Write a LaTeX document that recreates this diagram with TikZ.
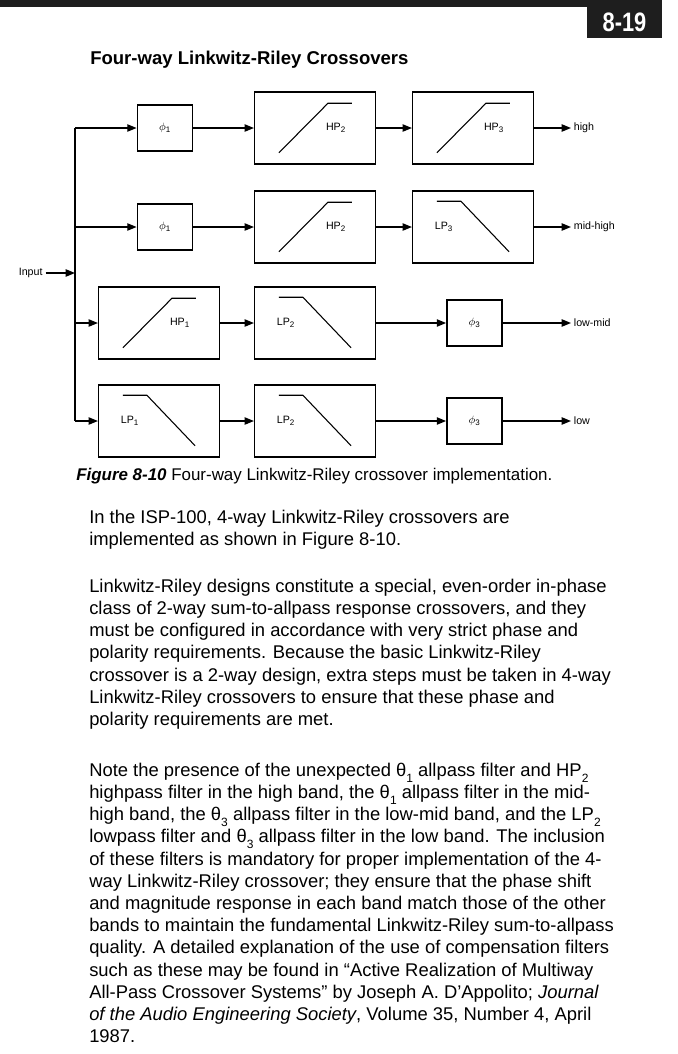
\documentclass[tikz,border=0pt]{standalone}
\usepackage{fontspec}
\setmainfont{Liberation Sans}
\usepackage{graphicx}
\usepackage{tikz}
\usetikzlibrary{positioning,arrows.meta,calc}

\definecolor{pagebar}{RGB}{30,30,30}
\newcommand{\lowidx}[1]{\raisebox{-0.6ex}{\fontsize{9}{9}\selectfont #1}}

\begin{document}
\begin{tikzpicture}[
  x=0.75pt, y=-0.75pt,
  font=\fontsize{8}{9.5}\selectfont,
  filt/.style={draw, line width=1.1pt, minimum width=90.5pt, minimum height=54pt, inner sep=0pt},
  apass/.style={draw, line width=1.1pt, minimum width=41.5pt, minimum height=34.5pt, inner sep=0pt},
  lbl/.style={inner sep=2pt},
  arr/.style={-{Triangle[length=7pt,width=5.5pt]}, line width=1pt},
  resp/.style={line width=0.8pt},
  para/.style={anchor=north west, inner sep=0pt, align=left, font=\fontsize{13.8}{16.65}\selectfont}]
\useasboundingbox (0,0) rectangle (678,1054);

% page header
\fill[pagebar] (0,0) rectangle (662,7);
\node[fill=pagebar, text=white, minimum width=56.25pt, minimum height=23.25pt, inner sep=0pt,
  font=\bfseries\fontsize{20}{20}\selectfont] (pgno) at (624.5,22.5) {\scalebox{0.82}[1]{8-19}};
\node[anchor=base west, inner sep=0pt, font=\bfseries\fontsize{13.9}{16}\selectfont] (title) at (90,64.5)
  {Four-way Linkwitz-Riley Crossovers};

% input and bus
\node[lbl, anchor=east] (in) at (45.5,273) {Input};
\coordinate (bt) at (75,128);
\coordinate (bb) at (75,421);
\draw[line width=1.6pt] (bt) -- (bb);
\draw[arr] (in) -- (bt |- in);

% high
\node[apass] (ap1a) at (165,128) {$\phi$\textsubscript{1}};
\node[filt] (hp2a) at (315,128) {};
\node[filt] (hp3a) at (473,128) {};
\node[lbl, anchor=west] (high) at (571,128) {high};
% mid-high
\node[apass] (ap1b) at (165,227) {$\phi$\textsubscript{1}};
\node[filt] (hp2b) at (315,227) {};
\node[filt] (lp3) at (473,227) {};
\node[lbl, anchor=west] (midhigh) at (571,227) {mid-high};
% low-mid
\node[filt] (hp1) at (159,323) {};
\node[filt] (lp2a) at (315,323) {};
\node[apass] (ap3a) at (474.5,323) {$\phi$\textsubscript{3}};
\node[lbl, anchor=west] (lowmid) at (571,323) {low-mid};
% low
\node[filt] (lp1) at (159,421) {};
\node[filt] (lp2b) at (315,421) {};
\node[apass] (ap3b) at (474.5,421) {$\phi$\textsubscript{3}};
\node[lbl, anchor=west] (low) at (571,421) {low};

% filter responses
\foreach \f/\t in {hp2a/2, hp3a/3, hp2b/2, hp1/1} {
  \draw[resp] ($(\f.south west)+(25,-12)$) -- ($(\f.north west)+(74,12)$) -- ++(24,0);
  \node[lbl] (\f-l) at ($(\f)+(21,0)$) {HP\textsubscript{\t}};
}
\foreach \f/\t in {lp3/3, lp2a/2, lp1/1, lp2b/2} {
  \draw[resp] ($(\f.north west)+(25,11)$) -- ++(24,0) -- ($(\f.south east)+(-25,-12)$);
  \node[lbl] (\f-l) at ($(\f)+(-29,0)$) {LP\textsubscript{\t}};
}

% connections
\foreach \n in {ap1a, ap1b, hp1, lp1}
  \draw[arr] (bt |- \n) -- (\n);
\draw[arr] (ap1a) -- (hp2a);
\draw[arr] (hp2a) -- (hp3a);
\draw[arr] (hp3a) -- (high);
\draw[arr] (ap1b) -- (hp2b);
\draw[arr] (hp2b) -- (lp3);
\draw[arr] (lp3) -- (midhigh);
\draw[arr] (hp1) -- (lp2a);
\draw[arr] (lp2a) -- (ap3a);
\draw[arr] (ap3a) -- (lowmid);
\draw[arr] (lp1) -- (lp2b);
\draw[arr] (lp2b) -- (ap3b);
\draw[arr] (ap3b) -- (low);

% caption and text
\node[anchor=base west, inner sep=0pt, font=\fontsize{12.7}{15}\selectfont] (cap) at (76,480)
  {\textbf{\textit{Figure 8-10}} Four-way Linkwitz-Riley crossover implementation.};
\node[para] (para1) at (89,507.5) {\strut In the ISP-100, 4-way Linkwitz-Riley crossovers are\\
  implemented as shown in Figure 8-10.};
\node[para] (para2) at (89,576.5) {\strut Linkwitz-Riley designs constitute a special, even-order in-phase\\
  class of 2-way sum-to-allpass response crossovers, and they\\
  must be configured in accordance with very strict phase and\\
  polarity requirements. Because the basic Linkwitz-Riley\\
  crossover is a 2-way design, extra steps must be taken in 4-way\\
  Linkwitz-Riley crossovers to ensure that these phase and\\
  polarity requirements are met.};
\node[para] (para3) at (89,760.5) {\strut Note the presence of the unexpected θ\lowidx{1} allpass filter and HP\lowidx{2}\\
  highpass filter in the high band, the θ\lowidx{1} allpass filter in the mid-\\
  high band, the θ\lowidx{3} allpass filter in the low-mid band, and the LP\lowidx{2}\\
  lowpass filter and θ\lowidx{3} allpass filter in the low band. The inclusion\\
  of these filters is mandatory for proper implementation of the 4-\\
  way Linkwitz-Riley crossover; they ensure that the phase shift\\
  and magnitude response in each band match those of the other\\
  bands to maintain the fundamental Linkwitz-Riley sum-to-allpass\\
  quality. A detailed explanation of the use of compensation filters\\
  such as these may be found in “Active Realization of Multiway\\
  All-Pass Crossover Systems” by Joseph A. D’Appolito; \textit{Journal}\\
  \textit{of the Audio Engineering Society}, Volume 35, Number 4, April\\
  1987.};
\end{tikzpicture}
\end{document}
